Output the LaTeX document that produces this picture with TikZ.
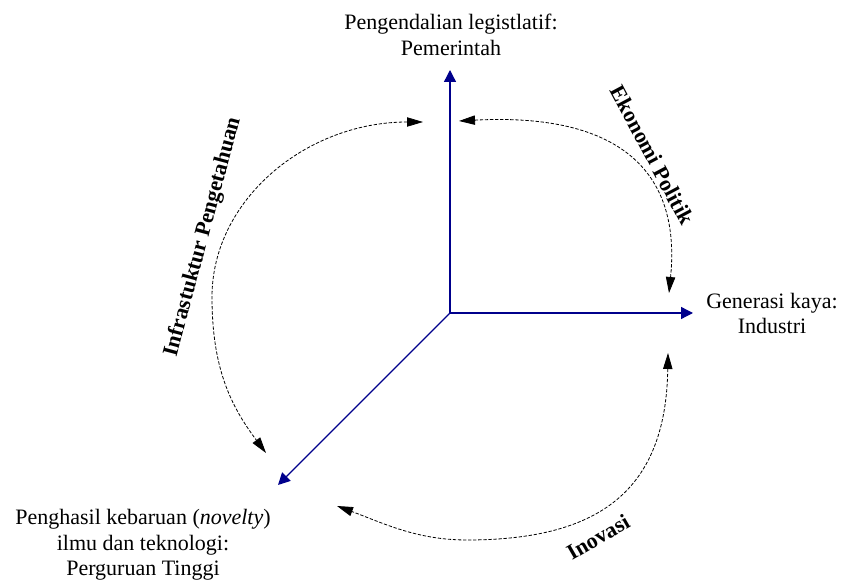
\documentclass[tikz,border=0pt]{standalone}
\usepackage{fontspec}
\setmainfont{Liberation Serif}
\usetikzlibrary{arrows.meta}
\definecolor{axisblue}{RGB}{0,0,140}
\begin{document}
\begin{tikzpicture}[x=0.75pt,y=-0.75pt,
  axisarrow/.style={draw=axisblue,line width=1pt,-{Triangle[length=9pt,width=9pt]}},
  cyclearrow/.style={draw=black,line width=0.6pt,dash pattern=on 2.5pt off 1.3pt,
     {Triangle[length=12pt,width=7pt]}-{Triangle[length=12pt,width=7pt]}},
  lbl/.style={font=\fontsize{16.5}{19.3}\selectfont,align=center,inner sep=0pt},
  arclbl/.style={font=\fontsize{16.5}{19.3}\selectfont\bfseries,inner sep=0pt}]
\useasboundingbox (0,0) rectangle (844,580);
% axes
\coordinate (O) at (450,313);
\coordinate (govtip) at (450,70);
\coordinate (indtip) at (693,313);
\coordinate (unitip) at (278,485);
\draw[axisarrow] (O) -- (govtip);
\draw[axisarrow] (O) -- (indtip);
\draw[axisarrow] (O) -- (unitip);
% labels
\node[lbl] (gov) at (451,35) {Pengendalian legistlatif:\\Pemerintah};
\node[lbl] (ind) at (772,313.5) {Generasi kaya:\\Industri};
\node[lbl] (uni) at (143,545) {Penghasil kebaruan (\textit{novelty})\\ilmu dan teknologi:\\Perguruan Tinggi};
% cycle arcs
\coordinate (eA) at (459,121);
\coordinate (eB) at (669,293);
\draw[cyclearrow] (eA) .. controls (609,113) and (682,163) .. (eB);
\coordinate (kA) at (423,122);
\coordinate (kM) at (212,297);
\coordinate (kB) at (266,453);
\draw[cyclearrow] (kA) .. controls (306,122) and (212,200) .. (kM)
   .. controls (212,367) and (230,405) .. (kB);
\coordinate (iA) at (668,353);
\coordinate (iM) at (467,540);
\coordinate (iB) at (337,506);
\draw[cyclearrow] (iA) .. controls (666,490) and (600,540) .. (iM)
   .. controls (417,540) and (384,523.5) .. (iB);
% arc labels
\node[arclbl,rotate=-62] (ekon) at (652.5,155) {Ekonomi Politik};
\node[arclbl,rotate=75] (infra) at (203,237) {Infrastuktur Pengetahuan};
\node[arclbl,rotate=30] (inov) at (598,537) {Inovasi};
\end{tikzpicture}
\end{document}
